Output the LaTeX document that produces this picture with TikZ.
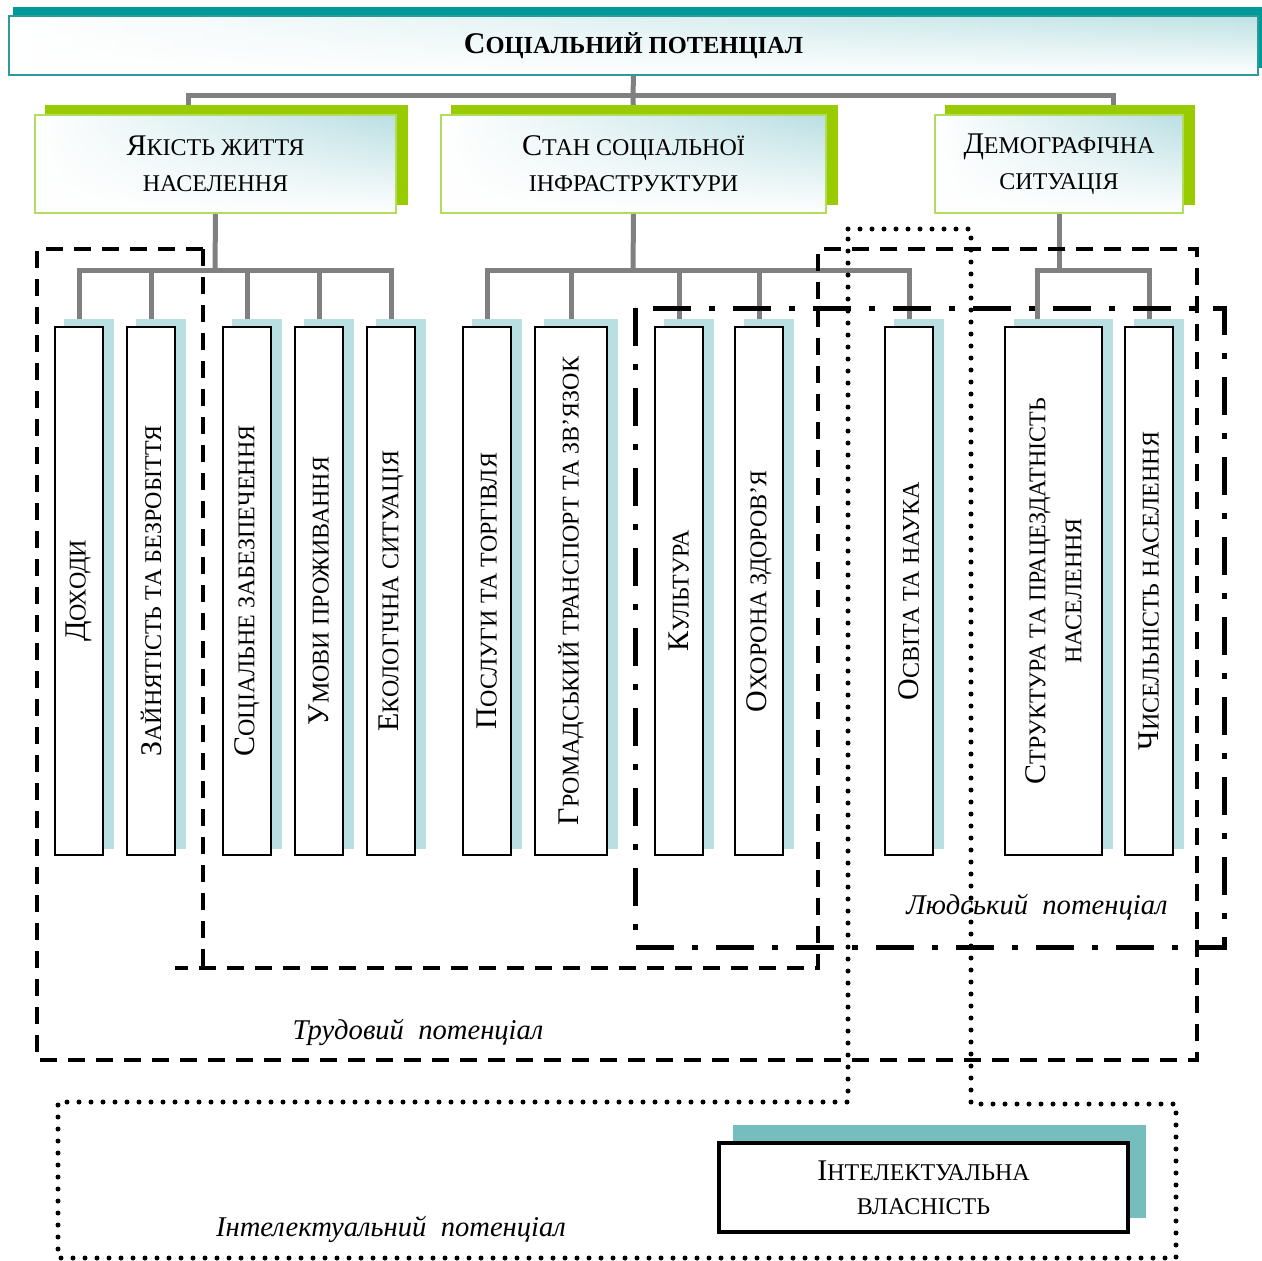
\documentclass[tikz,border=0pt]{standalone}
\usepackage{fontspec}
\setmainfont{Liberation Serif}
\usetikzlibrary{backgrounds,fadings}
\definecolor{tealsh}{RGB}{0,153,153}
\definecolor{tealbd}{RGB}{45,155,155}
\definecolor{tealfl}{RGB}{190,226,228}
\definecolor{greensh}{RGB}{153,204,0}
\definecolor{greenbd}{RGB}{178,220,95}
\definecolor{boxfl}{RGB}{186,223,227}
\definecolor{leafsh}{RGB}{185,223,226}
\definecolor{ipsh}{RGB}{118,190,190}
\definecolor{conngray}{RGB}{128,128,128}
\newcommand{\SC}[2]{{\fontsize{30}{36}\selectfont #1}{\fontsize{24}{36}\selectfont #2}}
\newcommand{\SCB}[2]{{\fontsize{30}{36}\selectfont\bfseries #1}{\fontsize{24.5}{36}\selectfont\bfseries #2}}
\tikzset{
  conn/.style={draw=conngray, line width=5pt},
  gradfill/.style={path picture={
      \shade[left color=white, right color=#1] (path picture bounding box.south west) rectangle (path picture bounding box.north east);
      \fill[white, path fading=north] (path picture bounding box.south west) rectangle (path picture bounding box.north east);}},
  titlebox/.style={draw=tealbd, line width=2pt, gradfill=tealfl, minimum width=1249pt, minimum height=59pt, inner sep=0pt},
  catbox/.style={draw=greenbd, line width=2pt, gradfill=boxfl, minimum height=98pt, inner sep=0pt, align=center, font=\fontsize{24}{36}\selectfont},
  leafbox/.style={draw=black, line width=1.8pt, fill=white, minimum height=528pt, inner sep=0pt},
  leaftext/.style={rotate=90, align=center, inner sep=0pt, font=\fontsize{24}{36}\selectfont},
  ipbox/.style={draw=black, line width=4pt, fill=white, minimum width=409pt, minimum height=89pt, inner sep=0pt, align=center, font=\fontsize{24}{34}\selectfont},
  potlabel/.style={font=\fontsize{28.6}{34}\selectfont\itshape, inner sep=0pt},
  dashreg/.style={draw=black, line width=4pt, dash pattern=on 17pt off 11pt},
  dashdotreg/.style={draw=black, line width=5pt, dash pattern=on 38pt off 18pt on 6pt off 18pt},
  dotreg/.style={draw=black, line width=5pt, line cap=round, dash pattern=on 0pt off 12pt},
}
\begin{document}
\begin{tikzpicture}[x=1pt,y=-1pt]
\useasboundingbox (0,0) rectangle (1262,1261);

% title
\node[titlebox] (t) at (633.5,45.5) {\SCB{С}{ОЦІАЛЬНИЙ ПОТЕНЦІАЛ}};

% categories
\node[catbox, minimum width=361pt] (q1) at (215.5,164) {\SC{Я}{КІСТЬ ЖИТТЯ}\\\SC{}{НАСЕЛЕННЯ}};
\node[catbox, minimum width=385pt] (q2) at (633.5,164) {\SC{С}{ТАН СОЦІАЛЬНОЇ}\\\SC{}{ІНФРАСТРУКТУРИ}};
\node[catbox, minimum width=248pt] (q3) at (1059,164) {\SC{Д}{ЕМОГРАФІЧНА}\\\SC{}{СИТУАЦІЯ}};

% leaves
\node[leafbox, minimum width=48pt] (l1) at (79,591) {};
\node[leafbox, minimum width=48pt] (l2) at (151,591) {};
\node[leafbox, minimum width=48pt] (l3) at (247,591) {};
\node[leafbox, minimum width=48pt] (l4) at (319,591) {};
\node[leafbox, minimum width=48pt] (l5) at (391,591) {};
\node[leafbox, minimum width=48pt] (l6) at (487,591) {};
\node[leafbox, minimum width=72pt] (l7) at (571,591) {};
\node[leafbox, minimum width=48pt] (l8) at (679,591) {};
\node[leafbox, minimum width=48pt] (l9) at (759,591) {};
\node[leafbox, minimum width=48pt] (l10) at (909,591) {};
\node[leafbox, minimum width=97pt] (l11) at (1053.5,591) {};
\node[leafbox, minimum width=48pt] (l12) at (1149,591) {};

\node[leaftext] (l1t) at (l1.center) {\SC{Д}{ОХОДИ}};
\node[leaftext] (l2t) at (l2.center) {\SC{З}{АЙНЯТІСТЬ ТА БЕЗРОБІТТЯ}};
\node[leaftext] (l3t) at (l3.center) {\SC{С}{ОЦІАЛЬНЕ ЗАБЕЗПЕЧЕННЯ}};
\node[leaftext] (l4t) at (l4.center) {\SC{У}{МОВИ ПРОЖИВАННЯ}};
\node[leaftext] (l5t) at (l5.center) {\SC{Е}{КОЛОГІЧНА СИТУАЦІЯ}};
\node[leaftext] (l6t) at (l6.center) {\SC{П}{ОСЛУГИ ТА ТОРГІВЛЯ}};
\node[leaftext] (l7t) at (l7.center) {\SC{Г}{РОМАДСЬКИЙ ТРАНСПОРТ ТА ЗВ’ЯЗОК}};
\node[leaftext] (l8t) at (l8.center) {\SC{К}{УЛЬТУРА}};
\node[leaftext] (l9t) at (l9.center) {\SC{О}{ХОРОНА ЗДОРОВ’Я}};
\node[leaftext] (l10t) at (l10.center) {\SC{О}{СВІТА ТА НАУКА}};
\node[leaftext] (l11t) at (l11.center) {\SC{С}{ТРУКТУРА ТА ПРАЦЕЗДАТНІСТЬ}\\\SC{}{НАСЕЛЕННЯ}};
\node[leaftext] (l12t) at (l12.center) {\SC{Ч}{ИСЕЛЬНІСТЬ НАСЕЛЕННЯ}};

% intellectual property box
\node[ipbox] (ip) at (923.5,1187.5) {\SC{І}{НТЕЛЕКТУАЛЬНА}\\\SC{}{ВЛАСНІСТЬ}};

\begin{scope}[on background layer]
  % connectors
  \coordinate (b0) at (633,95);
  \draw[conn] (t.south) -- (b0);
  \draw[conn] (b0) -| ([xshift=-27.5pt]q1.north);
  \draw[conn] (b0) -- (q2.north);
  \draw[conn] (b0) -| ([xshift=54pt]q3.north);
  \coordinate (b1) at (215,270);
  \coordinate (b2) at (633,270);
  \coordinate (b3) at (1059,270);
  \draw[conn] (q1.south) -- (b1);
  \draw[conn] (q2.south) -- (b2);
  \draw[conn] (q3.south) -- (b3);
  \foreach \n in {l1,l2,l3,l4,l5} \draw[conn] (b1) -| (\n.north);
  \foreach \n in {l6,l7,l8,l9,l10} \draw[conn] (b2) -| (\n.north);
  \draw[conn] (b3) -| ([xshift=-16.5pt]l11.north);
  \draw[conn] (b3) -| (l12.north);
  % shadows
  \fill[tealsh] ([shift={(5,-8)}]t.south west) rectangle ([shift={(5,-8)}]t.north east);
  \foreach \n in {q1,q2,q3}
    \fill[greensh] ([shift={(11,-9)}]\n.south west) rectangle ([shift={(11,-9)}]\n.north east);
  \foreach \n in {l1,l2,l3,l4,l5,l6,l7,l8,l9,l10,l11,l12}
    \fill[leafsh] ([shift={(10,-7)}]\n.south west) rectangle ([shift={(10,-7)}]\n.north east);
  \fill[ipsh] ([shift={(16,-16)}]ip.south west) rectangle ([shift={(16,-16)}]ip.north east);
\end{scope}

% regions
\draw[dashreg] (203,249) -- (37,249) -- (37,1060) -- (1197,1060) -- (1197,249) -- (818,249) -- (818,968) -- (175,968);
\draw[dashreg] (203,249) -- (203,968);
\draw[dashdotreg] (635,308) rectangle (1224,947);
\draw[dotreg] (848,229) -- (971,229) -- (971,1104) -- (1176,1104) -- (1176,1258) -- (58,1258) -- (58,1102) -- (848,1102) -- cycle;

\node[potlabel] (lab1) at (418,1032) {Трудовий\ \ потенціал};
\node[potlabel] (lab2) at (1037,907) {Людський\ \ потенціал};
\node[potlabel] (lab3) at (391,1229) {Інтелектуальний\ \ потенціал};
\end{tikzpicture}
\end{document}
